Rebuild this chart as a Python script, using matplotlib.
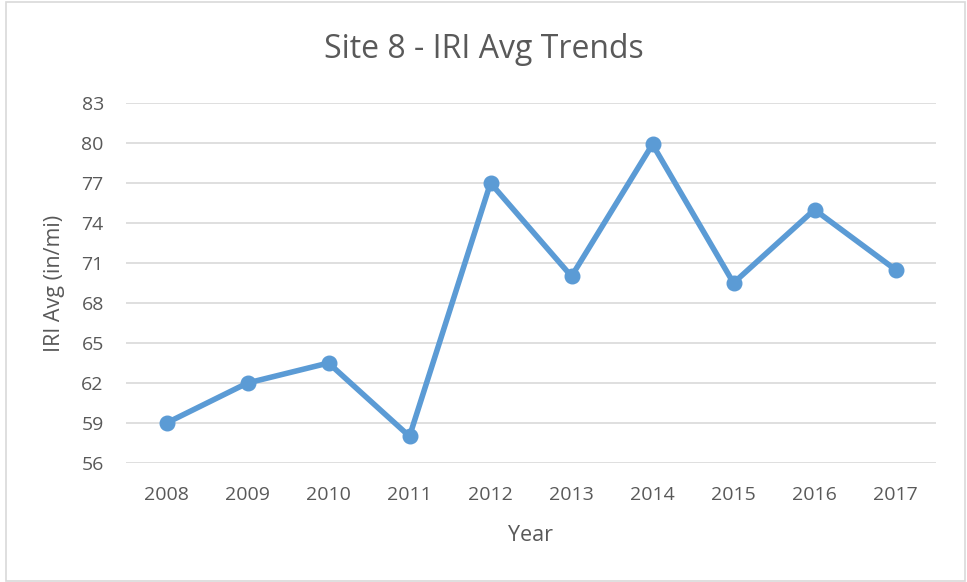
import matplotlib
matplotlib.use("Agg")
import matplotlib.pyplot as plt
from matplotlib.patches import Rectangle

years = ["2008", "2009", "2010", "2011", "2012", "2013", "2014", "2015", "2016", "2017"]
iri_avg = [59.0, 62.0, 63.5, 58.0, 77.0, 70.0, 79.9, 69.5, 75.0, 70.5]
y_ticks = [56, 59, 62, 65, 68, 71, 74, 77, 80, 83]

text_color = "#595959"
grid_color = "#D9D9D9"
line_color = "#5B9BD5"

plt.rcParams["font.family"] = ["Open Sans", "DejaVu Sans"]

fig = plt.figure(figsize=(9.67, 5.82), dpi=100)
fig.patches.append(Rectangle((6 / 967, 1 / 582), 959 / 967, 579 / 582,
                             transform=fig.transFigure, fill=False,
                             edgecolor="#D9D9D9", linewidth=1.2))

ax = fig.add_axes([126 / 967, 1 - 463 / 582, 810 / 967, 360 / 582])
x = list(range(len(years)))
ax.plot(x, iri_avg, color=line_color, linewidth=4, marker="o",
        markersize=10.5, solid_capstyle="round", zorder=3)

ax.set_xlim(-0.5, len(years) - 0.5)
ax.set_ylim(56, 83)
ax.set_yticks(y_ticks)
ax.set_xticks(x)
ax.set_xticklabels(years)
ax.yaxis.grid(True, color=grid_color, linewidth=1.2)
ax.set_axisbelow(True)
for side in ("top", "right", "left", "bottom"):
    ax.spines[side].set_visible(False)
ax.tick_params(axis="both", length=0, labelsize=14, colors=text_color)
ax.tick_params(axis="y", pad=16)
ax.tick_params(axis="x", pad=16.5)

ax.set_xlabel("Year", fontsize=15.5, color=text_color, labelpad=15)
ax.set_ylabel("IRI Avg (in/mi)", fontsize=15.5, color=text_color, labelpad=12)
fig.text(0.5, 1 - 50 / 582, "Site 8 - IRI Avg Trends", ha="center", va="center",
         fontsize=23, color=text_color)

fig.savefig("out.png", dpi=100)
